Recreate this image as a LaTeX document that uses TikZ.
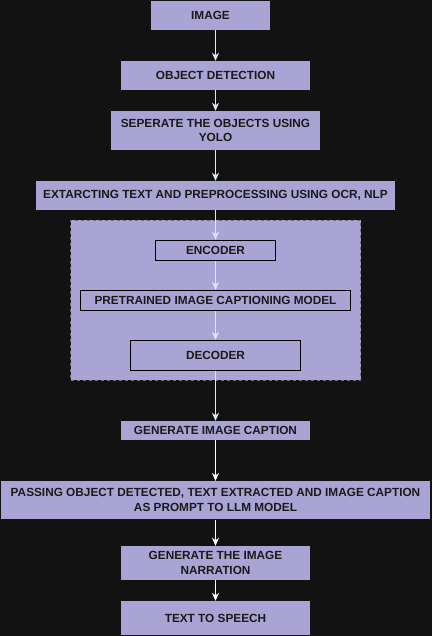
\documentclass[tikz,border=0pt]{standalone}
\usepackage{fontspec}
\setmainfont{Liberation Sans}
\usetikzlibrary{arrows.meta}
\definecolor{bg}{HTML}{121212}
\definecolor{boxfill}{HTML}{A9A4D4}
\definecolor{txt}{HTML}{1A1A1A}
\definecolor{arrlight}{HTML}{DAE8FC}
\definecolor{dashc}{HTML}{707070}
\begin{document}
\begin{tikzpicture}[x=1pt,y=-1pt,
  box/.style={draw=none, fill=boxfill, text=txt, font=\fontsize{11.8}{14.6}\selectfont\bfseries, align=center, inner sep=0pt},
  inbox/.style={draw=black, line width=0.8pt, fill=boxfill, text=txt, font=\fontsize{11.8}{14.6}\selectfont\bfseries, align=center, inner sep=0pt},
  conn/.style={draw=arrlight, line width=0.9pt, -{Stealth[length=8pt,width=7pt,inset=2.5pt]}},
  connw/.style={draw=white, line width=0.9pt, -{Stealth[length=8pt,width=7pt,inset=2.5pt]}}
]
\fill[bg] (0,0) rectangle (432,636);
\useasboundingbox (0,0) rectangle (432,636);

\node[box, minimum width=119pt, minimum height=29pt] (img) at (210.5,15.5) {IMAGE};
\node[box, minimum width=189pt, minimum height=29pt] (od) at (215.5,75.5) {OBJECT DETECTION};
\node[box, minimum width=209pt, minimum height=39pt] (sep) at (215.5,130.5) {SEPERATE THE OBJECTS USING\\YOLO};
\node[box, minimum width=359pt, minimum height=29pt] (ext) at (215.5,195.5) {EXTARCTING TEXT AND PREPROCESSING USING OCR, NLP};

\node[draw=dashc, dashed, line width=0.6pt, fill=boxfill, minimum width=290pt, minimum height=159.7pt, inner sep=0pt] (cont) at (215.7,300.2) {};

\node[inbox, minimum width=120.4pt, minimum height=20.3pt] (enc) at (215.5,250.2) {ENCODER};
\node[inbox, minimum width=270.4pt, minimum height=20.4pt] (pre) at (215.5,300.5) {PRETRAINED IMAGE CAPTIONING MODEL};
\node[inbox, minimum width=170.4pt, minimum height=30pt] (dec) at (215.5,355.3) {DECODER};

\node[box, minimum width=189pt, minimum height=19pt] (gic) at (215.5,430.5) {GENERATE IMAGE CAPTION};
\node[box, minimum width=429pt, minimum height=38.3pt] (pass) at (215.5,500.2) {PASSING OBJECT DETECTED, TEXT EXTRACTED AND IMAGE CAPTION\\AS PROMPT TO LLM MODEL};
\node[box, minimum width=189pt, minimum height=34pt] (narr) at (215.5,563) {GENERATE THE IMAGE\\NARRATION};
\node[box, minimum width=189pt, minimum height=34pt] (tts) at (215.5,618) {TEXT TO SPEECH};

\draw[conn] (img.south -| od.north) -- (od.north);
\draw[conn] (od) -- (sep);
\draw[conn] (sep) -- (ext);
\draw[conn] (ext) -- (enc);
\draw[conn] (enc) -- (pre);
\draw[conn] (pre) -- (dec);
\draw[conn] (dec) -- (gic);
\draw[connw] (gic) -- (pass);
\draw[connw] (pass) -- (narr);
\draw[connw] (narr) -- (tts);
\end{tikzpicture}
\end{document}
